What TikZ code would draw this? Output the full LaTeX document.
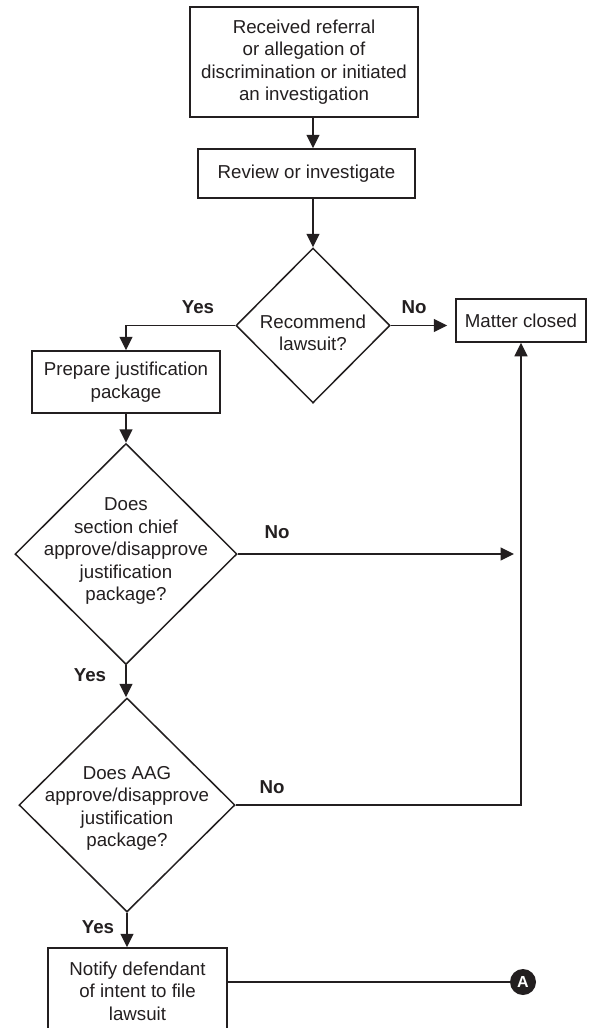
\documentclass[tikz,border=0pt]{standalone}
\usepackage{fontspec}
\setmainfont{Liberation Sans}
\usetikzlibrary{shapes.geometric,arrows.meta}
\definecolor{ink}{HTML}{231F20}
\begin{document}
\begin{tikzpicture}[x=1pt,y=-1pt,
  every node/.style={font=\fontsize{18.7}{22.5}\selectfont, text=ink},
  flowbox/.style={draw=ink, line width=1.5pt, rectangle, inner sep=0pt, align=center},
  decision/.style={draw=ink, line width=1.5pt, diamond, inner sep=0pt},
  flowarrow/.style={draw=ink, line width=1.5pt, -{Triangle[length=13.5pt,width=13pt]}},
  flowline/.style={draw=ink, line width=1.5pt},
  answer/.style={font=\fontsize{18.7}{22.5}\selectfont\bfseries, text=ink},
]
\clip (0,0) rectangle (593,1028);
\fill[white] (0,0) rectangle (593,1028);

\node[flowbox, minimum width=228pt, minimum height=110pt] (b1) at (304,62)
  {Received referral\\or allegation of\\discrimination or initiated\\an investigation};
\node[flowbox, minimum width=217pt, minimum height=49pt] (b2) at (306.5,173.5)
  {Review or investigate};
\node[decision, minimum width=154pt, minimum height=155pt,
  label={[align=center,yshift=-7.5pt]center:Recommend\\lawsuit?}] (d1) at (313,325.5) {};
\node[flowbox, minimum width=130pt, minimum height=43pt] (m) at (521,320.5)
  {Matter closed};
\node[flowbox, minimum width=188pt, minimum height=62pt] (p) at (126,382)
  {Prepare justification\\package};
\node[decision, minimum width=222pt, minimum height=221pt,
  label={[align=center,yshift=3pt]center:Does\\section chief\\approve/disapprove\\justification\\package?}] (d2) at (126,554) {};
\node[decision, minimum width=216pt, minimum height=214pt,
  label={[align=center,yshift=-3.5pt]center:Does AAG\\approve/disapprove\\justification\\package?}] (d3) at (127,805) {};
\node[flowbox, minimum width=179pt, minimum height=86pt] (n) at (137.5,991)
  {Notify defendant\\of intent to file\\lawsuit};
\node[circle, fill=ink, minimum size=26pt, inner sep=0pt, text=white,
  font=\fontsize{16}{18}\selectfont\bfseries] (a) at (523,982) {A};

\draw[flowarrow] (d1.north |- b1.south) -- (d1.north |- b2.north);
\draw[flowarrow] (d1.north |- b2.south) -- (d1.north);
\draw[flowarrow, shorten >=8pt] (d1.east) -- (d1.east -| m.west);
\draw[flowarrow] (d1.west) -| (p.north);
\draw[flowarrow] (p.south) -- (d2.north);
\draw[flowarrow, shorten >=7pt] (d2.east) -- (d2.east -| m.south);
\draw[flowarrow] (d2.south) -- (d2.south |- d3.north);
\draw[flowarrow] (d3.east) -| (m.south);
\draw[flowarrow] (d3.south) -- (d3.south |- n.north);
\draw[flowline] (a.west -| n.east) -- (a.west);

\node[answer] (y1) at (198,307) {Yes};
\node[answer] (n1) at (414,307) {No};
\node[answer] (n2) at (277,532) {No};
\node[answer] (y2) at (90,675) {Yes};
\node[answer] (n3) at (272,787) {No};
\node[answer] (y3) at (98,927) {Yes};
\end{tikzpicture}
\end{document}
